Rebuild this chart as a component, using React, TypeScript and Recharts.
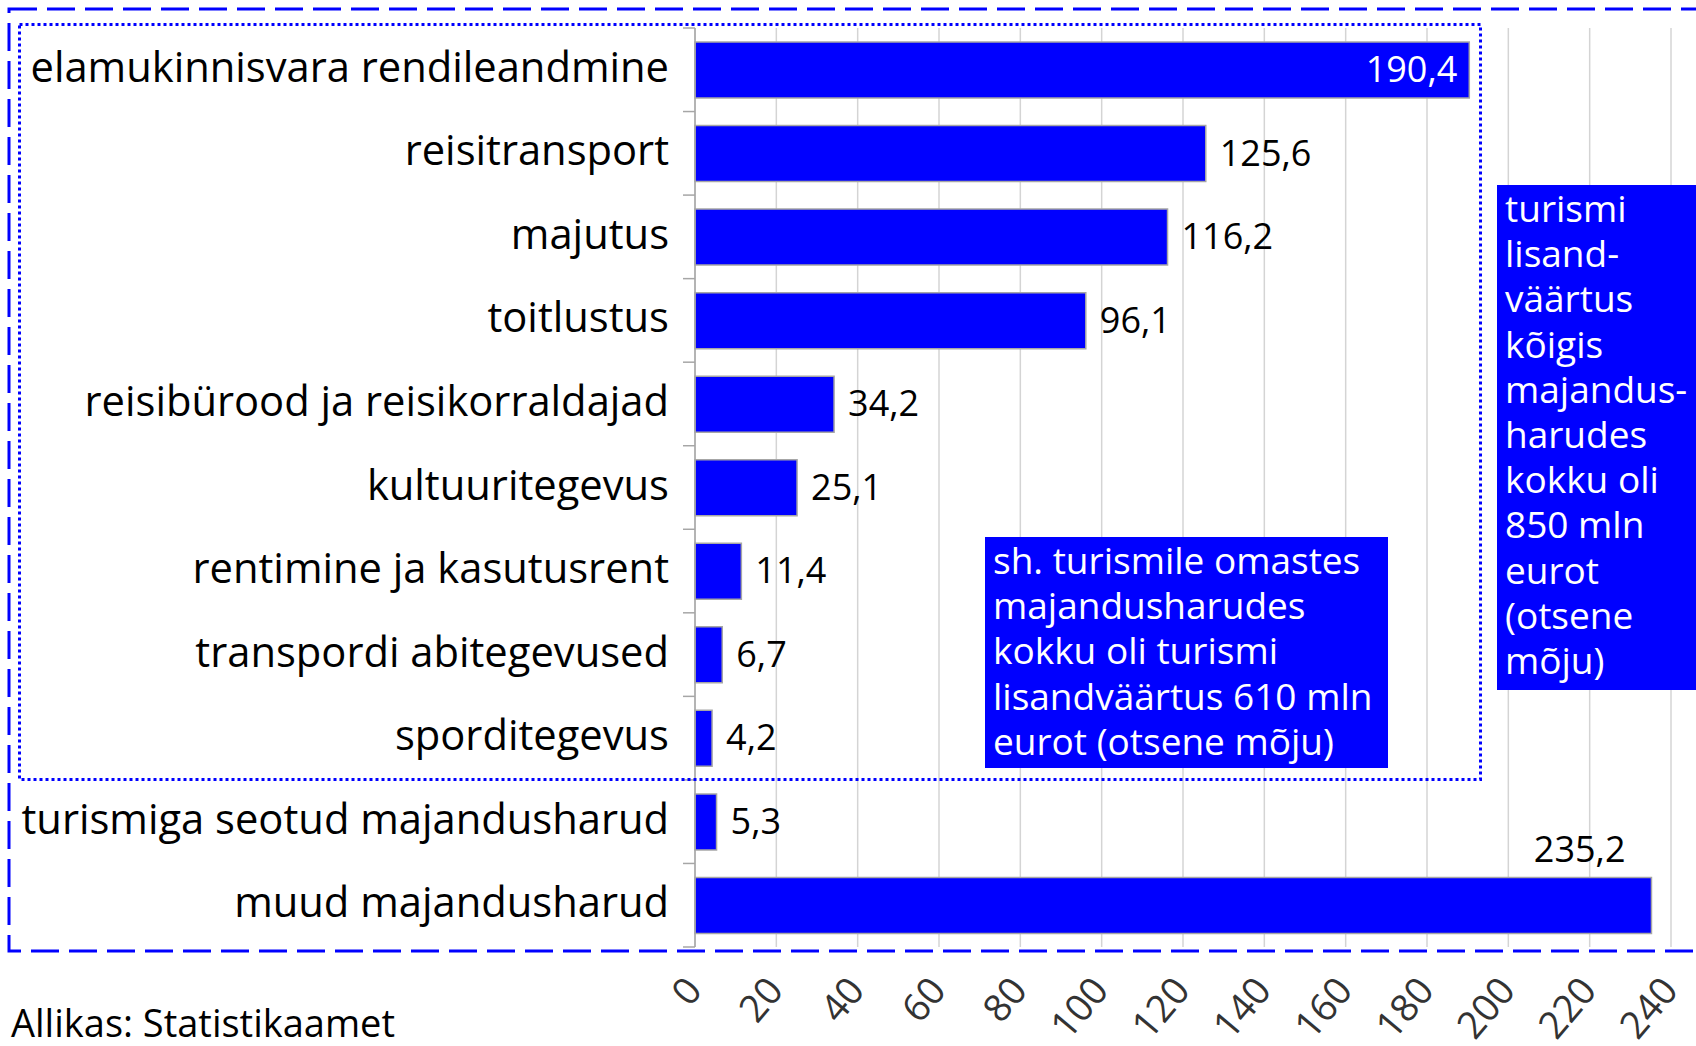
import React from 'react';
import { BarChart, Bar, XAxis, YAxis, CartesianGrid, LabelList } from 'recharts';

// ---- data ----
const categories = [
  'elamukinnisvara rendileandmine',
  'reisitransport',
  'majutus',
  'toitlustus',
  'reisibürood ja reisikorraldajad',
  'kultuuritegevus',
  'rentimine ja kasutusrent',
  'transpordi abitegevused',
  'sporditegevus',
  'turismiga seotud majandusharud',
  'muud majandusharud',
];
const values = [190.4, 125.6, 116.2, 96.1, 34.2, 25.1, 11.4, 6.7, 4.2, 5.3, 235.2];
const xTicks = [0, 20, 40, 60, 80, 100, 120, 140, 160, 180, 200, 220, 240];
const sourceText = 'Allikas: Statistikaamet';
const innerNoteLines = [
  'sh. turismile omastes',
  'majandusharudes',
  'kokku oli turismi',
  'lisandväärtus 610 mln',
  'eurot (otsene mõju)',
];
const outerNoteLines = [
  'turismi',
  'lisand-',
  'väärtus',
  'kõigis',
  'majandus-',
  'harudes',
  'kokku oli',
  '850 mln',
  'eurot',
  '(otsene',
  'mõju)',
];

const data = categories.map((name, i) => ({ name, value: values[i] }));

// ---- layout ----
const W = 1696;
const H = 1046;
const M_TOP = 28;
const M_RIGHT = 25;
const Y_W = 695;
const X_H = 99;
const PLOT_H = H - M_TOP - X_H;
const BAND = PLOT_H / categories.length;
const FONT = "'Open Sans', sans-serif";
const BLUE = '#0000ff';
const GRAY = '#a6a6a6';

const fmt = (v: number) => v.toFixed(1).replace('.', ',');

const CatTick = (props: any) => {
  const { x, y, payload, index } = props;
  const axisX = x + 26;
  const half = BAND / 2;
  return (
    <g>
      <text x={x} y={y + 12} textAnchor="end" fontSize={41.7} fill="#000" fontFamily={FONT}>
        {payload.value}
      </text>
      <line x1={axisX - 12} x2={axisX} y1={y - half} y2={y - half} stroke={GRAY} strokeWidth={1.5} />
      {index === categories.length - 1 && (
        <line x1={axisX - 12} x2={axisX} y1={y + half} y2={y + half} stroke={GRAY} strokeWidth={1.5} />
      )}
    </g>
  );
};

const XTick = (props: any) => {
  const { x, y, payload } = props;
  const ax = x - 12;
  const ay = y + 27;
  return (
    <text
      x={ax}
      y={ay}
      dy="0.71em"
      transform={`rotate(-50, ${ax}, ${ay})`}
      textAnchor="end"
      fontSize={38}
      fill="#333"
      fontFamily={FONT}
    >
      {payload.value}
    </text>
  );
};

const ValueLabel = (props: any) => {
  const { x, y, width, height, value, index } = props;
  const cy = y + height / 2;
  const txt = fmt(value);
  if (index === 0) {
    return (
      <text x={x + width - 12} y={cy + 12} textAnchor="end" fontSize={36} fill="#fff" fontFamily={FONT}>
        {txt}
      </text>
    );
  }
  if (index === categories.length - 1) {
    return (
      <text x={x + width - 26} y={y - 15} textAnchor="end" fontSize={36} fill="#000" fontFamily={FONT}>
        {txt}
      </text>
    );
  }
  return (
    <text x={x + width + 14} y={cy + 12} textAnchor="start" fontSize={36} fill="#000" fontFamily={FONT}>
      {txt}
    </text>
  );
};

const noteStyle: React.CSSProperties = {
  position: 'absolute',
  background: BLUE,
  color: '#fff',
  fontFamily: FONT,
  fontSize: 37,
  lineHeight: '45.2px',
  whiteSpace: 'pre',
  boxSizing: 'border-box',
  paddingLeft: 8,
  overflow: 'hidden',
};

export default function App() {
  return (
    <div style={{ position: 'absolute', left: 0, top: 0, width: W, height: H, background: '#fff', overflow: 'hidden' }}>
      <BarChart
        width={W}
        height={H}
        data={data}
        layout="vertical"
        margin={{ top: M_TOP, right: M_RIGHT, bottom: 0, left: 0 }}
        barSize={56}
      >
        <CartesianGrid horizontal={false} stroke="#d4d4d4" strokeWidth={1.5} />
        <XAxis
          type="number"
          domain={[0, 240]}
          ticks={xTicks}
          interval={0}
          height={X_H}
          axisLine={false}
          tickLine={false}
          tickSize={0}
          tickMargin={0}
          tick={<XTick />}
        />
        <YAxis
          type="category"
          dataKey="name"
          width={Y_W}
          interval={0}
          axisLine={{ stroke: GRAY, strokeWidth: 1.5 }}
          tickLine={false}
          tickSize={6}
          tickMargin={20}
          tick={<CatTick />}
        />
        <Bar dataKey="value" fill={BLUE} stroke={GRAY} strokeWidth={1.5} isAnimationActive={false}>
          <LabelList dataKey="value" content={<ValueLabel />} />
        </Bar>
      </BarChart>

      <svg
        width={W}
        height={H}
        style={{ position: 'absolute', left: 0, top: 0, pointerEvents: 'none' }}
      >
        <rect x={9} y={9} width={1720} height={942} fill="none" stroke={BLUE} strokeWidth={3} strokeDasharray="28 10" />
        <rect x={19.5} y={24.5} width={1461} height={755} fill="none" stroke={BLUE} strokeWidth={3} strokeDasharray="3 3" />
        <text x={11} y={1037} fontSize={38} fill="#000" fontFamily={FONT}>
          {sourceText}
        </text>
      </svg>

      <div style={{ ...noteStyle, left: 985, top: 537, width: 403, height: 231 }}>
        {innerNoteLines.join('\n')}
      </div>
      <div style={{ ...noteStyle, left: 1497, top: 185, width: 220, height: 505 }}>
        {outerNoteLines.join('\n')}
      </div>
    </div>
  );
}
